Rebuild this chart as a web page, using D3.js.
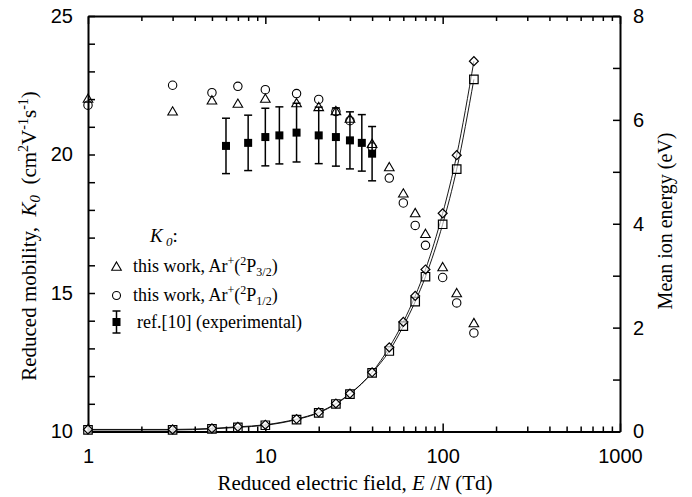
<!DOCTYPE html>
<html>
<head>
<meta charset="utf-8">
<script src="https://cdn.jsdelivr.net/npm/d3@7"></script>
<style>
  body { margin: 0; background: #fff; }
  svg { font-family: "Liberation Serif", "Times New Roman", serif; }
</style>
</head>
<body>
<div id="chart"></div>
<script>
// E/N values (Td) for this work
const fieldThis = [1, 3, 5, 7, 10, 15, 20, 25, 30, 40, 50, 60, 70, 80, 100, 120, 150];
// reduced mobility, Ar+(2P3/2) and Ar+(2P1/2)
const k0P32 = [22.02, 21.56, 21.96, 21.84, 22.02, 21.86, 21.72, 21.57, 21.3, 20.39, 19.55, 18.6, 17.89, 17.14, 15.94, 15.0, 13.92];
const k0P12 = [21.78, 22.5, 22.23, 22.46, 22.34, 22.2, 21.99, 21.55, 21.22, 20.27, 19.15, 18.25, 17.44, 16.72, 15.56, 14.64, 13.56];
// mean ion energy (eV), upper (diamonds) and lower (squares) curve
const energyP32 = [0.04, 0.04, 0.06, 0.09, 0.13, 0.24, 0.37, 0.54, 0.73, 1.14, 1.62, 2.11, 2.61, 3.12, 4.2, 5.32, 7.13];
const energyP12 = [0.03, 0.03, 0.05, 0.08, 0.12, 0.23, 0.36, 0.53, 0.72, 1.13, 1.55, 2.03, 2.5, 2.98, 3.99, 5.05, 6.78];

// ref.[10] experimental mobility
const fieldRef = [6, 8, 10, 12, 15, 20, 25, 30, 35, 40];
const k0Ref = [20.31, 20.42, 20.63, 20.69, 20.79, 20.69, 20.63, 20.51, 20.42, 20.03];
const k0RefErr = [1.0, 1.0, 1.04, 1.03, 1.06, 1.02, 1.05, 1.03, 1.02, 0.98];

// axis ticks
const xMajor = [1, 10, 100, 1000];
const yLeftMajor = [10, 15, 20, 25];
const yRightMajor = [0, 2, 4, 6, 8];

const W = 692, H = 497;
const margin = { top: 16, right: 72, bottom: 65.5, left: 88 };

const svg = d3.select("#chart").append("svg")
  .attr("width", W)
  .attr("height", H);

const x = d3.scaleLog().domain([1, 1000]).range([margin.left, W - margin.right]);
const yK = d3.scaleLinear().domain([10, 25]).range([H - margin.bottom, margin.top]);
const yE = d3.scaleLinear().domain([0, 8]).range([H - margin.bottom, margin.top]);

// all the log ticks
const xTicks = [];
[1, 10, 100].forEach(dec => { for (let i = 1; i < 10; i++) xTicks.push(dec * i); });
xTicks.push(1000);

function styleAxis(g) {
  g.select(".domain").attr("stroke-width", 2);
  g.selectAll(".tick line").attr("stroke-width", 1.5);
  g.selectAll(".tick text").attr("font-size", 20).attr("fill", "#000");
}

// bottom axis
const xAxis = svg.append("g")
  .attr("transform", `translate(0,${H - margin.bottom})`)
  .call(d3.axisBottom(x).tickValues(xTicks).tickSizeInner(-5).tickSizeOuter(0).tickPadding(17)
    .tickFormat(d => xMajor.includes(d) ? d : ""));
styleAxis(xAxis);
xAxis.selectAll(".tick line").filter(d => xMajor.includes(d)).attr("y2", -8);

// top axis
const xTop = svg.append("g")
  .attr("transform", `translate(0,${margin.top})`)
  .call(d3.axisTop(x).tickValues(xTicks).tickSizeInner(-5).tickSizeOuter(0).tickFormat(""));
styleAxis(xTop);
xTop.selectAll(".tick line").filter(d => xMajor.includes(d)).attr("y2", 8);

// left axis
const yAxisL = svg.append("g")
  .attr("transform", `translate(${margin.left},0)`)
  .call(d3.axisLeft(yK).tickValues(d3.range(10, 26)).tickSizeInner(-7).tickSizeOuter(0).tickPadding(15)
    .tickFormat(d => yLeftMajor.includes(d) ? d : ""));
styleAxis(yAxisL);

// right axis
const yAxisR = svg.append("g")
  .attr("transform", `translate(${W - margin.right},0)`)
  .call(d3.axisRight(yE).tickValues(d3.range(0, 9)).tickSizeInner(-7).tickSizeOuter(0).tickPadding(13)
    .tickFormat(d => yRightMajor.includes(d) ? d : ""));
styleAxis(yAxisR);

// axis titles
const xt = svg.append("text")
  .attr("x", (margin.left + W - margin.right) / 2 + 1)
  .attr("y", 490)
  .attr("text-anchor", "middle")
  .attr("font-size", 21);
xt.append("tspan").text("Reduced electric field, ");
xt.append("tspan").attr("font-style", "italic").text("E");
xt.append("tspan").text(" /");
xt.append("tspan").attr("font-style", "italic").text("N");
xt.append("tspan").text("  (Td)");

const yt = svg.append("text")
  .attr("transform", "translate(35.5,236) rotate(-90)")
  .attr("text-anchor", "middle")
  .attr("font-size", 21)
  .attr("xml:space", "preserve");
yt.append("tspan").text("Reduced mobility,  ");
yt.append("tspan").attr("font-style", "italic").text("K");
yt.append("tspan").attr("font-style", "italic").attr("font-size", 15).attr("dy", 4).text("0");
yt.append("tspan").attr("dy", -4).text("  (cm");
yt.append("tspan").attr("font-size", 14).attr("dy", -8).text("2");
yt.append("tspan").attr("dy", 8).text("V");
yt.append("tspan").attr("font-size", 14).attr("dy", -8).text("-1");
yt.append("tspan").attr("dy", 8).text("s");
yt.append("tspan").attr("font-size", 14).attr("dy", -8).text("-1");
yt.append("tspan").attr("dy", 8).text(")");

svg.append("text")
  .attr("transform", "translate(672,221) rotate(-90)")
  .attr("text-anchor", "middle")
  .attr("font-size", 20)
  .text("Mean ion energy (eV)");

// mean energy curves
const lineE = d3.line().x(d => x(d[0])).y(d => yE(d[1])).curve(d3.curveMonotoneX);
[energyP32, energyP12].forEach(arr => {
  svg.append("path")
    .datum(fieldThis.map((f, i) => [f, arr[i]]))
    .attr("d", lineE)
    .attr("fill", "none")
    .attr("stroke", "#000")
    .attr("stroke-width", 0.9);
});

const sym = (type, size) => d3.symbol().type(type).size(size)();

svg.selectAll(".eSq").data(fieldThis).join("path")
  .attr("transform", (d, i) => `translate(${x(d)},${yE(energyP12[i])})`)
  .attr("d", sym(d3.symbolSquare, 72))
  .attr("fill", "#fff").attr("fill-opacity", 0.6).attr("stroke", "#000").attr("stroke-width", 1.2);

svg.selectAll(".eDia").data(fieldThis).join("path")
  .attr("transform", (d, i) => `translate(${x(d)},${yE(energyP32[i])}) rotate(45)`)
  .attr("d", sym(d3.symbolSquare, 40))
  .attr("fill", "#fff").attr("fill-opacity", 0.6).attr("stroke", "#000").attr("stroke-width", 1.2);

// ref.[10] with error bars
const errG = svg.append("g").attr("stroke", "#000").attr("stroke-width", 1.5);
fieldRef.forEach((f, i) => {
  const cx = x(f), y1 = yK(k0Ref[i] + k0RefErr[i]), y2 = yK(k0Ref[i] - k0RefErr[i]);
  errG.append("line").attr("x1", cx).attr("x2", cx).attr("y1", y1).attr("y2", y2);
  errG.append("line").attr("x1", cx - 4).attr("x2", cx + 4).attr("y1", y1).attr("y2", y1);
  errG.append("line").attr("x1", cx - 4).attr("x2", cx + 4).attr("y1", y2).attr("y2", y2);
});
svg.selectAll(".refSq").data(fieldRef).join("rect")
  .attr("x", d => x(d) - 4).attr("y", (d, i) => yK(k0Ref[i]) - 4)
  .attr("width", 8).attr("height", 8).attr("fill", "#000");

// mobility, this work
svg.selectAll(".tri").data(fieldThis).join("path")
  .attr("transform", (d, i) => `translate(${x(d)},${yK(k0P32[i]) + 1})`)
  .attr("d", sym(d3.symbolTriangle, 40))
  .attr("fill", "none").attr("stroke", "#000").attr("stroke-width", 1.1);

svg.selectAll(".circ").data(fieldThis).join("circle")
  .attr("cx", d => x(d)).attr("cy", (d, i) => yK(k0P12[i]))
  .attr("r", 4.2)
  .attr("fill", "none").attr("stroke", "#000").attr("stroke-width", 1.1);

// legend
const lg = svg.append("g");
const lt = lg.append("text").attr("x", 150).attr("y", 242).attr("font-size", 19);
lt.append("tspan").attr("font-style", "italic").text("K");
lt.append("tspan").attr("font-style", "italic").attr("font-size", 13).attr("dy", 4).text(" 0");
lt.append("tspan").attr("dy", -4).text(":");

function legendLabel(y, sub) {
  const t = lg.append("text").attr("x", 133).attr("y", y).attr("font-size", 18);
  t.append("tspan").text("this work, Ar");
  t.append("tspan").attr("font-size", 12).attr("dy", -7).text("+");
  t.append("tspan").attr("dy", 7).text("(");
  t.append("tspan").attr("font-size", 12).attr("dy", -7).text("2");
  t.append("tspan").attr("dy", 7).text("P");
  t.append("tspan").attr("font-size", 12).attr("dy", 4).text(sub);
  t.append("tspan").attr("dy", -4).text(")");
}
lg.append("path").attr("transform", "translate(116.5,267.5)")
  .attr("d", sym(d3.symbolTriangle, 40))
  .attr("fill", "none").attr("stroke", "#000").attr("stroke-width", 1.1);
legendLabel(272, "3/2");
lg.append("circle").attr("cx", 116.5).attr("cy", 295.5).attr("r", 4)
  .attr("fill", "none").attr("stroke", "#000").attr("stroke-width", 1.1);
legendLabel(301, "1/2");
lg.append("line").attr("x1", 116.5).attr("x2", 116.5).attr("y1", 311).attr("y2", 333)
  .attr("stroke", "#000").attr("stroke-width", 1.5);
[311, 333].forEach(yy => lg.append("line").attr("x1", 112.5).attr("x2", 120.5).attr("y1", yy).attr("y2", yy)
  .attr("stroke", "#000").attr("stroke-width", 1.5));
lg.append("rect").attr("x", 112.5).attr("y", 318).attr("width", 8).attr("height", 8).attr("fill", "#000");
lg.append("text").attr("x", 137).attr("y", 327.5).attr("font-size", 18).text("ref.[10] (experimental)");
</script>
</body>
</html>
